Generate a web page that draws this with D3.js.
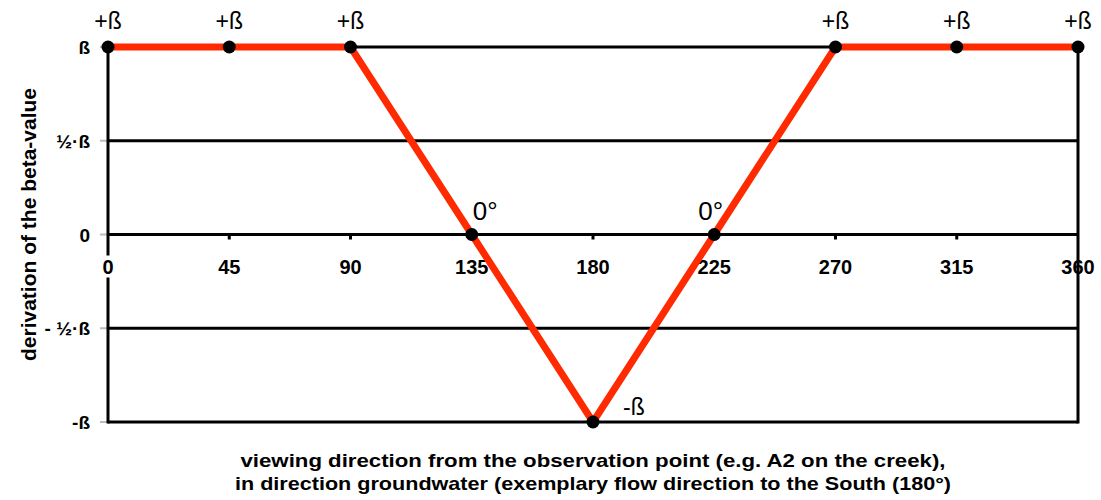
<!DOCTYPE html>
<html>
<head>
<meta charset="utf-8">
<script src="https://cdn.jsdelivr.net/npm/d3@7"></script>
<style>
  body { margin: 0; background: #fff; }
  svg { display: block; font-family: "Liberation Sans", Arial, sans-serif; }
</style>
</head>
<body>
<svg id="chart"></svg>
<script>
const angles = [0, 45, 90, 135, 180, 225, 270, 315, 360];
const betaValues = [1, 1, 1, 0, -1, 0, 1, 1, 1];
const pointLabels = ["+ß", "+ß", "+ß", "0°", "-ß", "0°", "+ß", "+ß", "+ß"];
const yTicks = [1, 0.5, 0, -0.5, -1];
const yTickLabels = ["ß", "½·ß", "0", "- ½·ß", "-ß"];
const xTicks = [0, 45, 90, 135, 180, 225, 270, 315, 360];

const width = 1101, height = 500;
const svg = d3.select("#chart").attr("width", width).attr("height", height);

const x = d3.scaleLinear().domain([0, 360]).range([108, 1078]);
const y = d3.scaleLinear().domain([-1, 1]).range([422, 47]);

// y tick marks + horizontal grid lines
svg.append("g").selectAll("line")
  .data(yTicks)
  .join("line")
  .attr("x1", x(0) - 8).attr("x2", x(0))
  .attr("y1", d => y(d)).attr("y2", d => y(d))
  .attr("stroke", "#bbb").attr("stroke-width", 2);

svg.append("g").selectAll("line")
  .data(yTicks)
  .join("line")
  .attr("x1", x(0)).attr("x2", x(360))
  .attr("y1", d => y(d)).attr("y2", d => y(d))
  .attr("stroke", "#000").attr("stroke-width", 3);

// frame sides
svg.append("line")
  .attr("x1", x(0)).attr("x2", x(0)).attr("y1", y(1)).attr("y2", y(-1) + 1.5)
  .attr("stroke", "#000").attr("stroke-width", 3);
svg.append("line")
  .attr("x1", x(360)).attr("x2", x(360)).attr("y1", y(1)).attr("y2", y(-1) + 1.5)
  .attr("stroke", "#000").attr("stroke-width", 3);

// x ticks on the zero line
svg.append("g").selectAll("line")
  .data(xTicks.filter(d => d > 0 && d < 360))
  .join("line")
  .attr("x1", d => x(d)).attr("x2", d => x(d))
  .attr("y1", y(0)).attr("y2", y(0) + 5)
  .attr("stroke", "#000").attr("stroke-width", 3);

// x tick labels (the 0 has a white backing like the original)
const xl = svg.append("g").selectAll("g")
  .data(xTicks)
  .join("g")
  .attr("transform", d => `translate(${x(d)},${y(0) + 39})`);
xl.filter(d => d === 0).append("rect")
  .attr("x", -7).attr("y", -18).attr("width", 14).attr("height", 22)
  .attr("fill", "#fff");
xl.append("text")
  .attr("text-anchor", "middle")
  .attr("font-size", 20).attr("font-weight", "bold")
  .text(d => d);

// y tick labels
svg.append("g").selectAll("text")
  .data(yTicks)
  .join("text")
  .attr("x", 90).attr("y", d => y(d) + 7)
  .attr("text-anchor", "end")
  .attr("font-size", 19).attr("font-weight", "bold")
  .text((d, i) => yTickLabels[i]);

// red line
const pts = angles.map((a, i) => ({ a, v: betaValues[i], label: pointLabels[i] }));
svg.append("path")
  .datum(pts)
  .attr("fill", "none")
  .attr("stroke", "#ff2a00")
  .attr("stroke-width", 7)
  .attr("stroke-linejoin", "round")
  .attr("d", d3.line().x(d => x(d.a)).y(d => y(d.v)));

svg.append("g").selectAll("circle")
  .data(pts)
  .join("circle")
  .attr("cx", d => x(d.a)).attr("cy", d => y(d.v))
  .attr("r", 6.5).attr("fill", "#000");

// point labels
svg.append("g").selectAll("text")
  .data(pts)
  .join("text")
  .attr("x", d => {
    if (d.v === 1) return x(d.a);
    if (d.v === -1) return x(d.a) + 30;
    return d.a < 180 ? x(d.a) + 1 : x(d.a) - 16;
  })
  .attr("y", d => d.v === 1 ? y(d.v) - 18 : d.v === -1 ? y(d.v) - 7 : y(d.v) - 15)
  .attr("text-anchor", d => d.v === 1 ? "middle" : "start")
  .attr("font-size", d => d.v === 0 ? 26 : 23)
  .text(d => d.label);

// axis titles
svg.append("text")
  .attr("transform", `translate(36,${(y(1) + y(-1)) / 2 - 10}) rotate(-90)`)
  .attr("text-anchor", "middle")
  .attr("font-size", 21).attr("font-weight", "bold")
  .text("derivation of the beta-value");

svg.append("text")
  .attr("x", 593).attr("y", 467)
  .attr("text-anchor", "middle")
  .attr("font-size", 19).attr("font-weight", "bold")
  .attr("textLength", 705).attr("lengthAdjust", "spacingAndGlyphs")
  .text("viewing direction from the observation point (e.g. A2 on the creek),");
svg.append("text")
  .attr("x", 593).attr("y", 490)
  .attr("text-anchor", "middle")
  .attr("font-size", 19).attr("font-weight", "bold")
  .attr("textLength", 716).attr("lengthAdjust", "spacingAndGlyphs")
  .text("in direction groundwater (exemplary flow direction to the South (180°)");
</script>
</body>
</html>
